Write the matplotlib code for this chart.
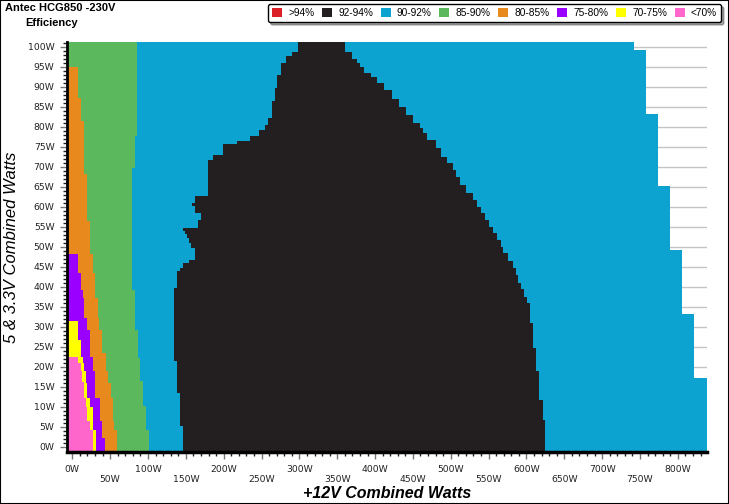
import matplotlib
matplotlib.use("Agg")
import matplotlib.pyplot as plt
import numpy as np
from matplotlib.colors import ListedColormap
from matplotlib.patches import Patch, Rectangle

# legend bands
bands = [">94%", "92-94%", "90-92%", "85-90%", "80-85%", "75-80%", "70-75%", "<70%"]
band_colors = ["#dc2027", "#231f20", "#0da3d0", "#5cb85c", "#e8891d", "#9900ff", "#ffff00", "#ff66cc"]

# Each boundary is a step function of the 5&3.3V load (W):
# up to *_top[i] the region ends at +12V load *_x[i] (W).
pink_top = [4.3, 6.6, 10.1, 12.2, 16.2, 18.9, 21.0, 22.4]
pink_x = [27.0, 23.4, 20.0, 18.0, 15.5, 12.4, 11.0, 8.0]

yellow_top = [4.3, 10.1, 12.2, 16.0, 18.9, 21.0, 22.4, 26.8, 31.4]
yellow_x = [31.0, 27.0, 23.4, 19.0, 18.0, 15.5, 14.6, 11.0, 8.0]

purple_top = [2.2, 6.4, 12.2, 18.9, 22.4, 29.3, 32.2, 37.2, 39.3, 43.5, 48.3]
purple_x = [43.0, 39.0, 36.0, 30.5, 27.0, 23.0, 19.0, 15.5, 13.7, 11.0, 8.0]

orange_top = [4.3, 6.4, 12.2, 16.0, 18.9, 23.5, 29.3, 32.2, 37.2, 43.5, 48.3,
              56.4, 68.3, 81.4, 87.2, 94.9]
orange_x = [59.5, 55.0, 53.5, 50.7, 47.6, 44.0, 39.5, 35.8, 34.0, 30.5, 26.9,
            23.4, 19.9, 15.5, 11.5, 7.1]

green_top = [4.3, 10.2, 16.4, 22.2, 29.3, 39.3, 69.8, 77.7, 102.0]
green_x = [101.6, 97.2, 93.7, 89.7, 86.2, 83.0, 79.3, 83.0, 86.0]

black_left_top = [5.3, 13.5, 21.4, 39.8, 43.9, 44.8, 46.0, 46.8, 49.8, 51.0, 52.2,
                  53.2, 53.9, 54.7, 56.8, 58.4, 60.2, 61.0, 62.8, 71.8, 73.1, 75.8,
                  76.6, 77.7, 79.3, 80.6, 82.3, 86.4, 89.7, 93.1, 96.0, 97.8, 98.8, 102.0]
black_left_x = [146.0, 142.3, 138.8, 134.8, 138.8, 142.3, 145.8, 154.6, 162.1, 157.0, 154.0,
                151.0, 148.3, 146.7, 166.5, 170.0, 162.1, 158.6, 162.1, 178.9, 186.3, 198.7,
                217.0, 234.8, 247.0, 254.6, 259.0, 263.5, 268.0, 270.0, 275.4, 282.4, 290.0, 298.7]

black_right_top = [6.8, 11.8, 18.9, 24.7, 31.0, 36.0, 37.6, 39.5, 41.0, 43.0,
                   44.7, 46.5, 48.5, 50.0, 51.8, 53.5, 55.0, 56.8, 58.5, 60.0,
                   61.8, 63.5, 65.5, 67.5, 69.3, 71.0, 72.6, 74.7, 76.8, 78.5,
                   79.7, 81.0, 83.0, 85.0, 87.0, 89.3, 91.0, 92.5, 93.5, 95.0,
                   96.0, 97.0, 98.8, 102.0]
black_right_x = [624.7, 621.6, 617.2, 612.8, 609.2, 604.8, 600.5, 597.0, 593.0, 589.4,
                 586.0, 582.0, 576.0, 569.6, 566.0, 561.7, 556.0, 550.0, 545.4, 540.0,
                 534.0, 529.0, 520.0, 512.0, 507.0, 503.5, 495.0, 487.0, 481.0, 468.0,
                 463.0, 459.0, 450.0, 441.0, 432.0, 422.0, 412.0, 402.0, 395.0, 385.0,
                 380.0, 376.0, 370.0, 360.0]

max_top = [17.3, 33.25, 49.25, 65.25, 83.25, 99.25, 102.0]
max_x = [838.5, 821.0, 805.4, 789.5, 773.7, 757.8, 741.9]

X0, X1 = -7.0, 838.5
Y0, Y1 = -1.25, 101.25

# regions left to right
region_colors = ["#ff66cc", "#ffff00", "#9900ff", "#e8891d", "#5cb85c",
                 "#0da3d0", "#231f20", "#0da3d0"]
edges = [(pink_top, pink_x), (yellow_top, yellow_x), (purple_top, purple_x),
         (orange_top, orange_x), (green_top, green_x),
         (black_left_top, black_left_x), (black_right_top, black_right_x),
         (max_top, max_x)]


def step_edge(tops, xs, y):
    i = np.searchsorted(tops, y)
    out = np.full(y.shape, X0)
    ok = i < len(tops)
    out[ok] = np.asarray(xs)[i[ok]]
    return out


y_edges = np.unique(np.clip(np.concatenate([[Y0, Y1]] + [t for t, _ in edges]), Y0, Y1))
x_edges = np.unique(np.clip(np.concatenate([[X0, X1]] + [x for _, x in edges]), X0, X1))
yc = 0.5 * (y_edges[:-1] + y_edges[1:])
xc = 0.5 * (x_edges[:-1] + x_edges[1:])

bounds = np.array([step_edge(t, x, yc) for t, x in edges])          # (8, ny)
region = (xc[None, None, :] >= bounds[:, :, None]).sum(axis=0)      # (ny, nx)
grid = np.ma.masked_where(region >= len(region_colors), region)

fig = plt.figure(figsize=(7.29, 5.04), dpi=100)
ax = fig.add_axes([67 / 729, 52 / 504, 640 / 729, 410 / 504])

ax.pcolormesh(x_edges, y_edges, grid, cmap=ListedColormap(region_colors),
              vmin=-0.5, vmax=len(region_colors) - 0.5, shading="flat",
              antialiased=False, edgecolors="none", zorder=1)

ax.set_xlim(X0, X1)
ax.set_ylim(Y0, Y1)
ax.set_axisbelow(True)
ax.grid(axis="y", color="#c4c4c4", lw=1)

xt = np.arange(0, 801, 50)
ax.set_xticks(xt)
ax.set_xticklabels([f"{v}W" if v % 100 == 0 else f"\n{v}W" for v in xt])
ax.set_xticks(np.arange(0, 831, 10), minor=True)
yt = np.arange(0, 101, 5)
ax.set_yticks(yt)
ax.set_yticklabels([f"{v}W" for v in yt])
ax.set_yticks(np.arange(0, 102, 1), minor=True)

ax.tick_params(which="major", direction="out", length=5, width=1, color="#777777",
               labelsize=6.7, labelcolor="#222222")
ax.tick_params(which="minor", direction="out", length=3, width=1, color="#222222")
ax.tick_params(axis="x", which="major", pad=4)
ax.tick_params(axis="y", which="major", pad=4)

for s in ("top", "right"):
    ax.spines[s].set_visible(False)
ax.spines["left"].set_linewidth(2)
ax.spines["bottom"].set_linewidth(2.5)

ax.set_xlabel("+12V Combined Watts", fontsize=11.5, fontweight="bold", style="italic",
              family="Liberation Sans")
ax.xaxis.set_label_coords(0.5, -0.1)
ax.xaxis.label.set_va("center")
ax.set_ylabel("5 & 3.3V Combined Watts", fontsize=12, style="italic",
              family="Liberation Sans")
ax.yaxis.set_label_coords(-0.086, 0.5)
ax.yaxis.label.set_va("center")

fig.text(5 / 729, 1 - 3 / 504, "Antec HCG850 -230V", fontsize=8, fontweight="bold",
         family="Liberation Sans", va="top", ha="left")
fig.text(25 / 729, 1 - 18 / 504, "Efficiency", fontsize=8, fontweight="bold",
         family="Liberation Sans", va="top", ha="left")

handles = [Patch(facecolor=c, edgecolor="none") for c in band_colors]
leg = fig.legend(handles, bands, ncol=8, loc="upper right",
                 bbox_to_anchor=(721 / 729, 1 - 4 / 504), borderaxespad=0,
                 prop={"family": "Liberation Sans", "size": 7.3},
                 handlelength=1.0, handleheight=0.95, handletextpad=0.6,
                 columnspacing=0.75, borderpad=0.4, fancybox=True, shadow=True,
                 frameon=True, framealpha=1)
leg.get_frame().set_edgecolor("black")
leg.get_frame().set_linewidth(1)

fig.patches.append(Rectangle((0, 0), 1, 1, transform=fig.transFigure, fill=False,
                             edgecolor="black", lw=1.5))

fig.savefig("out.png", dpi=100)
